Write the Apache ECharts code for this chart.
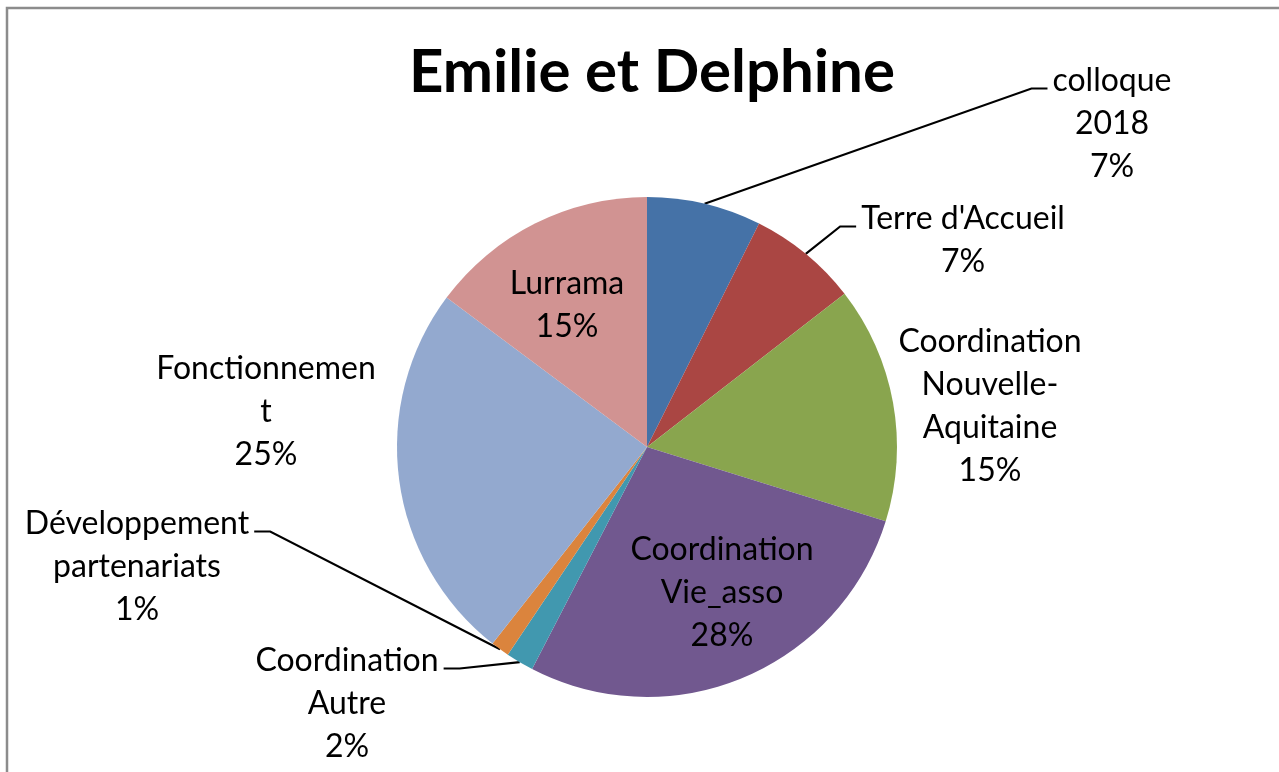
<!DOCTYPE html>
<html>
<head>
<meta charset="utf-8">
<title>Emilie et Delphine</title>
<script src="https://cdn.jsdelivr.net/npm/echarts@6/dist/echarts.min.js"></script>
<style>
    html, body {margin: 0; padding: 0; background: #fff;}
    #myEcharts {width: 1279px; height: 772px;}
</style>
</head>
<body>
<div id="myEcharts"></div>
<script>
//数据
var categories = ["colloque 2018", "Terre d'Accueil", "Coordination Nouvelle-Aquitaine", "Coordination Vie_asso",
    "Coordination Autre", "Développement partenariats", "Fonctionnement", "Lurrama"];
var labelTexts = ["colloque\n2018", "Terre d'Accueil", "Coordination\nNouvelle-\nAquitaine", "Coordination\nVie_asso",
    "Coordination\nAutre", "Développement\npartenariats", "Fonctionnemen\nt", "Lurrama"];
var shares = [7.4, 7.1, 15.3, 27.8, 1.8, 1.2, 24.6, 14.8];
var colors = ["#4572A7", "#AA4643", "#89A54E", "#71588F", "#4198AF", "#DB843D", "#93A9CF", "#D19392"];

//标签位置 [中心x, 顶部y], 引导线方向 (0 无, 1 标签在右, -1 标签在左)
var labelPos = [[1112, 59], [963, 197], [990, 320], [722, 528], [347, 639], [137, 502], [266, 347], [567, 262]];
var lineSide = [1, 1, 0, 0, -1, -1, 0, 0];
var LINE_H = 43;

var myEcharts = echarts.init(document.getElementById("myEcharts"));

var pieData = [];
for (var i = 0; i < categories.length; i++) {
    pieData.push({
        name: categories[i],
        value: shares[i],
        itemStyle: {color: colors[i]},
        labelLine: {show: lineSide[i] !== 0}
    });
}

var option = {
    animation: false,
    title: {
        text: "Emilie et Delphine",
        left: 404,
        top: 38,
        textStyle: {
            fontFamily: "Lato",
            fontWeight: "bold",
            fontSize: 60,
            color: "#000"
        }
    },
    graphic: [{
        type: "rect",
        shape: {x: 7, y: 8, width: 1300, height: 800},
        style: {fill: "none", stroke: "#8c8c8c", lineWidth: 2.5},
        silent: true
    }],
    series: [{
        type: "pie",
        center: [647, 447],
        radius: 250,
        startAngle: 90,
        clockwise: true,
        itemStyle: {borderWidth: 0},
        label: {
            show: true,
            position: "outside",
            fontFamily: "Lato",
            fontSize: 32,
            lineHeight: LINE_H,
            color: "#000",
            align: "center",
            formatter: function (p) {
                return labelTexts[p.dataIndex] + "\n" + Math.round(p.percent) + "%";
            }
        },
        labelLine: {
            length: 20,
            length2: 20,
            lineStyle: {color: "#000", width: 2.2}
        },
        labelLayout: function (params) {
            var i = params.dataIndex;
            var p = labelPos[i];
            var w = params.labelRect.width;
            var res = {x: p[0], y: p[1], align: "center", verticalAlign: "top"};
            if (lineSide[i] !== 0 && params.labelLinePoints) {
                var start = params.labelLinePoints[0];
                var ly = p[1] + LINE_H / 2 + 8;
                var edge = lineSide[i] > 0 ? p[0] - w / 2 - 5 : p[0] + w / 2 + 5;
                var elbow = edge - lineSide[i] * 16;
                res.labelLinePoints = [[start[0], start[1]], [elbow, ly], [edge, ly]];
            }
            return res;
        },
        data: pieData
    }]
};
myEcharts.setOption(option);
</script>
</body>
</html>
